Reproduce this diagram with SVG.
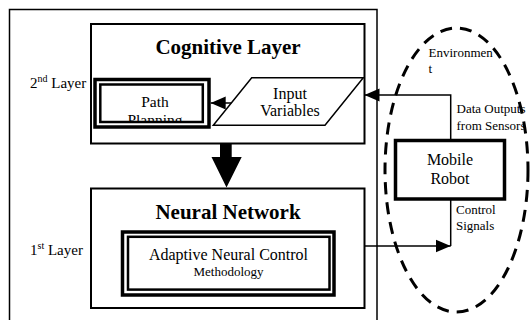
<svg xmlns="http://www.w3.org/2000/svg" width="530" height="320" viewBox="0 0 530 320" font-family="Liberation Serif, serif">
<style>
text{fill:#000}
.box{fill:#fff;stroke:#000;stroke-width:2}
.thick{fill:none;stroke:#000;stroke-width:3.5}
.thin{fill:none;stroke:#000;stroke-width:2.5}
.line{fill:none;stroke:#000;stroke-width:1.5}
.title{font-size:21px;font-weight:bold;text-anchor:middle}
.mid{text-anchor:middle}
</style>
<defs>
<marker id="ah" markerUnits="userSpaceOnUse" markerWidth="16" markerHeight="14" refX="15" refY="7" orient="auto">
<path d="M0,0.5 L15,7 L0,13.5 Z" fill="#000"/>
</marker>
<clipPath id="ppclip"><rect x="101.5" y="85.5" width="100" height="35.5"/></clipPath>
</defs>
<rect x="0" y="0" width="530" height="320" fill="#fff"/>
<rect id="frame" x="9.5" y="9.5" width="367.5" height="320" fill="none" stroke="#000" stroke-width="1.5"/>

<g id="cognitive">
<rect class="box" x="91" y="24" width="273.5" height="119.5"/>
<text class="title" x="228" y="54">Cognitive Layer</text>
</g>
<g id="layer2"><text x="30" y="88" font-size="15">2<tspan font-size="10" dy="-6">nd</tspan><tspan dy="6"> Layer</tspan></text></g>

<g id="pathplanning">
<rect class="thick" x="95" y="79.5" width="114" height="47.5" fill="#fff"/>
<rect class="thin" x="100.3" y="84.5" width="102.5" height="37.5"/>
<g clip-path="url(#ppclip)">
<text class="mid" x="155" y="107" font-size="15.5">Path</text>
<text class="mid" x="155" y="124.5" font-size="15.5">Planning</text>
</g>
</g>

<g id="inputvars">
<polygon points="251.7,77.7 363.3,77.7 325,125.3 213.3,125.3" fill="#fff" stroke="#000" stroke-width="1.5"/>
<text class="mid" x="290" y="99" font-size="16">Input</text>
<text class="mid" x="290" y="116" font-size="16">Variables</text>
</g>

<g id="neural">
<rect class="box" x="91" y="188.5" width="273.5" height="119.5"/>
<text class="title" x="228" y="219">Neural Network</text>
</g>
<g id="layer1"><text x="30" y="255" font-size="15">1<tspan font-size="10" dy="-6">st</tspan><tspan dy="6"> Layer</tspan></text></g>

<g id="adaptive">
<rect class="thick" x="122.5" y="232" width="211.5" height="63"/>
<rect class="thin" x="128" y="236.8" width="201.5" height="52.8"/>
<text class="mid" x="228.5" y="260" font-size="16">Adaptive Neural Control</text>
<text class="mid" x="228.5" y="276" font-size="13">Methodology</text>
</g>

<g id="environment">
<ellipse cx="456.5" cy="170" rx="71.5" ry="142" fill="none" stroke="#000" stroke-width="3" stroke-dasharray="12 8"/>
<text x="428.5" y="57" font-size="13">Environmen</text>
<text x="428.5" y="73" font-size="13">t</text>
</g>

<g id="robot">
<rect x="395.5" y="140.5" width="109" height="58.5" fill="#fff" stroke="#000" stroke-width="3.5"/>
<text class="mid" x="450" y="165" font-size="16">Mobile</text>
<text class="mid" x="450" y="183.5" font-size="16">Robot</text>
</g>

<g id="connectors">
<path class="line" d="M231.3,103 L210.7,103" marker-end="url(#ah)"/>
<path d="M220,143 L231.7,143 L231.7,157 L241.7,157 L226.5,187.5 L211.5,157 L220,157 Z" fill="#000"/>
<path class="line" d="M450.7,139 L450.7,95 L364.5,95" marker-end="url(#ah)"/>
<path class="line" d="M364.5,246 L450.7,246" marker-end="url(#ah)"/>
<path class="line" d="M450.7,246 L450.7,200"/>
<text x="456.5" y="113.3" font-size="13">Data Outputs</text>
<text x="456.5" y="130" font-size="13">from Sensors</text>
<text x="456" y="214" font-size="13">Control</text>
<text x="456" y="229.5" font-size="13">Signals</text>
</g>
</svg>
